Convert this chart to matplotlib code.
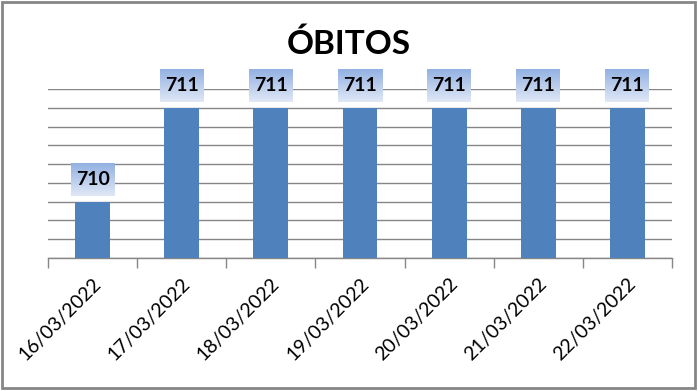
import numpy as np
import matplotlib.pyplot as plt
from matplotlib.patches import Rectangle
from matplotlib.colors import LinearSegmentedColormap

# dados do gráfico
datas = ["16/03/2022", "17/03/2022", "18/03/2022", "19/03/2022",
         "20/03/2022", "21/03/2022", "22/03/2022"]
obitos = [710, 711, 711, 711, 711, 711, 711]

plt.rcParams['font.family'] = ['Lato', 'DejaVu Sans']

W, H = 698, 391
fig = plt.figure(figsize=(W / 100, H / 100), dpi=100)
ax = fig.add_axes([48 / W, 133 / H, 624 / W, 169 / H])

x = np.arange(len(datas))
ax.bar(x, obitos, width=0.39, color="#4F81BD", zorder=3)
ax.set_xlim(-0.5, len(datas) - 0.5)
ax.set_ylim(709.4, 711.2)
ax.set_yticks(np.arange(709.4, 711.21, 0.2))
ax.yaxis.grid(True, color="#868686", lw=1, zorder=0)
ax.tick_params(axis="y", left=False, labelleft=False)
for s in ["top", "right", "left"]:
    ax.spines[s].set_visible(False)
ax.spines["bottom"].set_color("#868686")
ax.spines["bottom"].set_linewidth(1)

ax.set_xticks(x)
ax.set_xticklabels(datas, rotation=45, ha="right", va="top",
                   rotation_mode="anchor", fontsize=14)
ax.tick_params(axis="x", which="major", length=0, pad=12)
ax.set_xticks(np.arange(-0.5, len(datas)), minor=True)
ax.tick_params(axis="x", which="minor", length=7, color="#868686", width=1)

# rótulos com caixa em degradê
cmap = LinearSegmentedColormap.from_list("lbl", ["#E0E8F6", "#93B1E2"])
grad = np.linspace(0, 1, 64).reshape(-1, 1)
fig.canvas.draw()
inv = ax.transData.inverted()
bw, bh, gap = 44, 32, 6
for xi, v in zip(x, obitos):
    px, py = ax.transData.transform((xi, v))
    (x0, y0) = inv.transform((px - bw / 2, py + gap))
    (x1, y1) = inv.transform((px + bw / 2, py + gap + bh))
    im = ax.imshow(grad, extent=(x0, x1, y0, y1), origin="lower", cmap=cmap,
                   aspect="auto", zorder=4, interpolation="bilinear")
    im.set_clip_on(False)
    ax.text(xi, (y0 + y1) / 2, str(v), ha="center", va="center",
            fontsize=14, fontweight="bold", zorder=5)
ax.set_xlim(-0.5, len(datas) - 0.5)
ax.set_ylim(709.4, 711.2)

fig.text(0.5, 1 - 44 / H, "ÓBITOS", ha="center", va="center",
         fontsize=24, fontweight="bold")

fig.patches.append(Rectangle((2 / W, 3 / H), 693 / W, 386 / H,
                             transform=fig.transFigure, fill=False,
                             ec="#868686", lw=2))

fig.savefig("out.png", dpi=100)
